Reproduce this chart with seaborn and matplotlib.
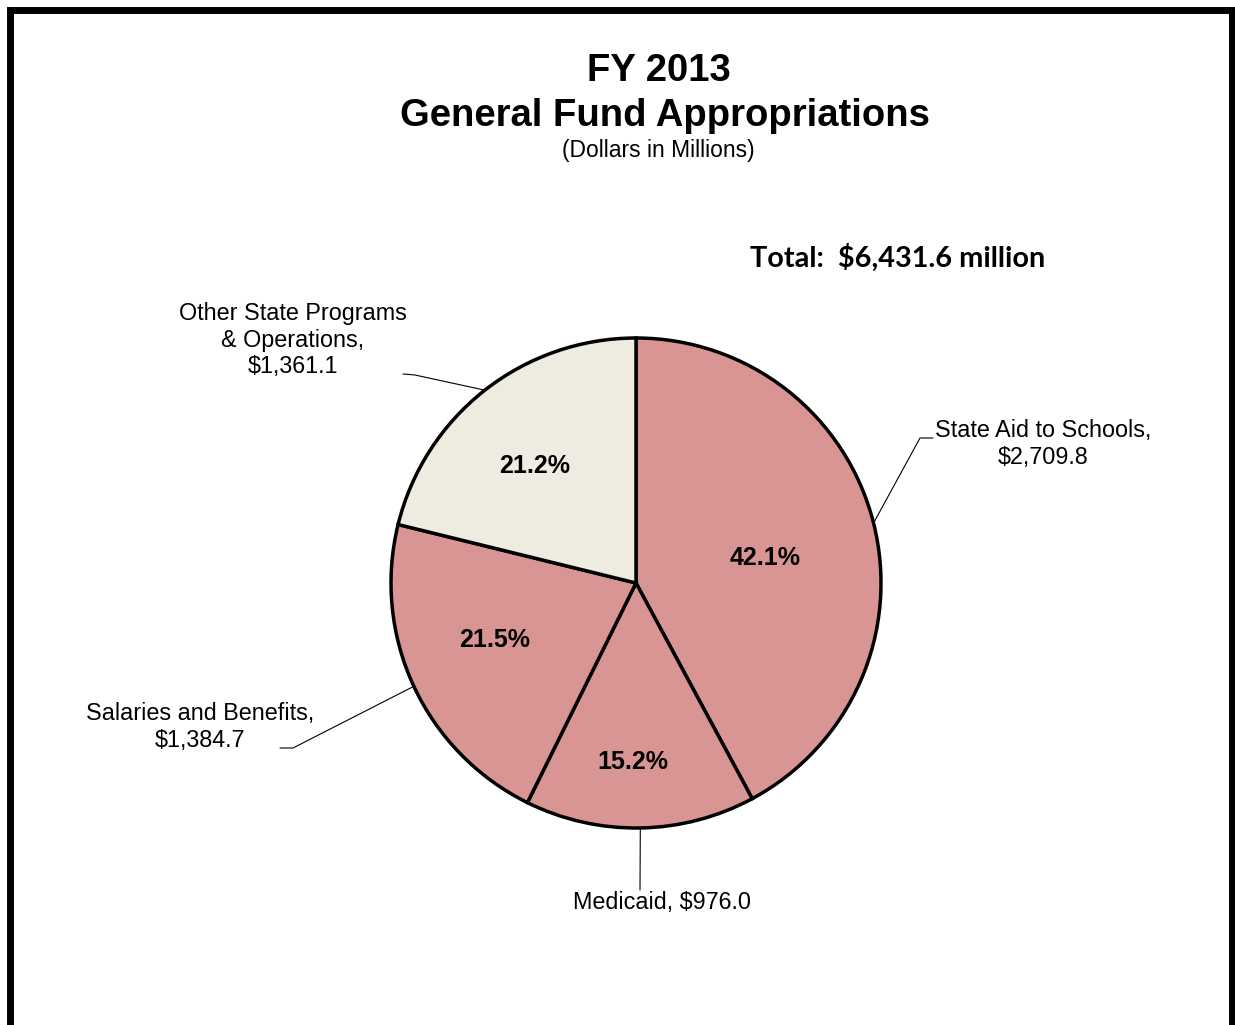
import numpy as np
import seaborn as sns
import matplotlib.pyplot as plt

# valores do gráfico (milhões de dólares)
categorias = ['State Aid to Schools', 'Medicaid', 'Salaries and Benefits',
              'Other State Programs & Operations']
valores = [2709.8, 976.0, 1384.7, 1361.1]
percentuais = ['42.1%', '15.2%', '21.5%', '21.2%']
rotulos = ['State Aid to Schools,\n$2,709.8', 'Medicaid, $976.0',
           'Salaries and Benefits,\n$1,384.7',
           'Other State Programs\n& Operations,\n$1,361.1']
total_txt = 'Total:  $6,431.6 million'

sns.set_theme(style="white")
plt.rcParams['font.family'] = ['Liberation Sans', 'DejaVu Sans']
plt.rcParams['text.color'] = 'black'

W, H = 1235, 1025
fig = plt.figure(figsize=(W / 100, H / 100), dpi=100)
ax = fig.add_axes([0, 0, 1, 1])

cx, cy, R = 636, H - 583, 245
cores = ['#D99594', '#D99594', '#D99594', '#EEECE1']

wedges, _ = ax.pie(valores, colors=cores, startangle=90, counterclock=False,
                   center=(cx, cy), radius=R, frame=True,
                   wedgeprops=dict(edgecolor='black', linewidth=2.5))
ax.set_xlim(0, W)
ax.set_ylim(0, H)
ax.axis('off')

# percentuais dentro das fatias (deslocamento de ângulo e distância por fatia)
dist_pct = [0.54, 0.72, 0.62, 0.64]
desvio_ang = [-2, -2, -4, 2]
for w, p, d, da in zip(wedges, percentuais, dist_pct, desvio_ang):
    ang = np.deg2rad((w.theta1 + w.theta2) / 2 + da)
    ax.text(cx + d * R * np.cos(ang), cy + d * R * np.sin(ang), p,
            ha='center', va='center_baseline', fontsize=18, fontweight='bold')

# rótulos com linhas de chamada
pos_rotulo = [(1043, H - 444), (662, H - 903), (200, H - 727), (293, H - 340)]
cotovelo = [(920, H - 438), (640, H - 890), (293, H - 748), (415, H - 375)]
fim_linha = [(933, H - 438), (640, H - 890), (280, H - 748), (403, H - 374)]
for w, txt, pos, cot, fim in zip(wedges, rotulos, pos_rotulo, cotovelo, fim_linha):
    ang = np.deg2rad((w.theta1 + w.theta2) / 2)
    ex, ey = cx + R * np.cos(ang), cy + R * np.sin(ang)
    ax.plot([ex, cot[0], fim[0]], [ey, cot[1], fim[1]], color='black', lw=0.8)
    ax.text(pos[0], pos[1], txt, ha='center', va='center', fontsize=16.8,
            linespacing=1.22)

# títulos
ax.text(659, H - 71, 'FY 2013', ha='center', va='center', fontsize=27.5, fontweight='bold')
ax.text(665, H - 116, 'General Fund Appropriations', ha='center', va='center',
        fontsize=27.5, fontweight='bold')
ax.text(658, H - 151, '(Dollars in Millions)', ha='center', va='center', fontsize=16.5)
ax.text(898, H - 258, total_txt, ha='center', va='center', fontsize=20.8,
        fontweight='bold', family=['Lato', 'DejaVu Sans'])

# moldura preta
ax.plot([10, 10, 1232, 1232], [0, H - 10, H - 10, 0], color='black', lw=5,
        solid_joinstyle='miter', clip_on=False)

fig.savefig('out.png', dpi=100)
